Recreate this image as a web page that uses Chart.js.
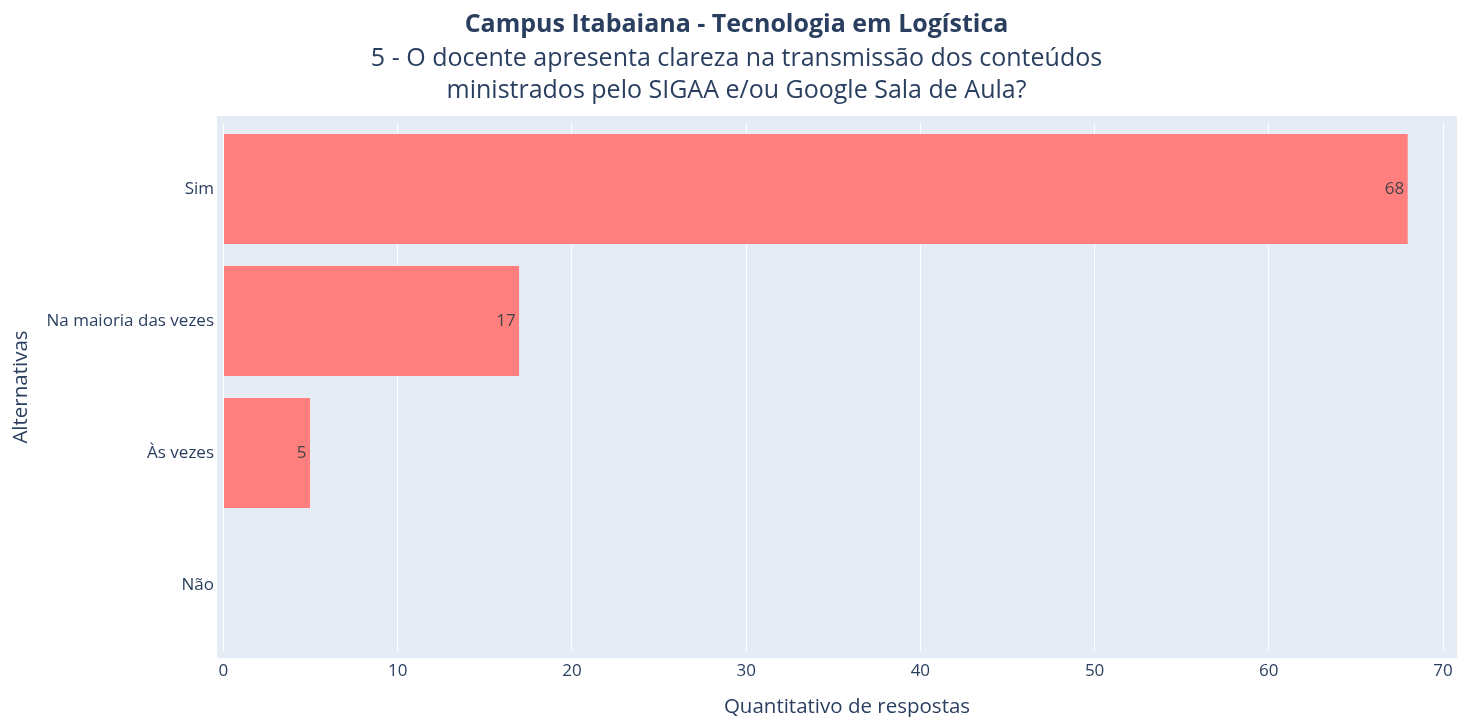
<!DOCTYPE html>
<html>
<head>
<meta charset="utf-8">
<script src="https://cdn.jsdelivr.net/npm/chart.js@4"></script>
<style>
  html, body { margin: 0; padding: 0; background: #fff; }
  #wrap { width: 1460px; height: 717px; }
</style>
</head>
<body>
<div id="wrap"><canvas id="chart"></canvas></div>
<script>
const categories = ['Sim', 'Na maioria das vezes', 'Às vezes', 'Não'];
const respostas = [68, 17, 5, 0];
const xTicks = [0, 10, 20, 30, 40, 50, 60, 70];

const titleText = 'Campus Itabaiana - Tecnologia em Logística';
const subtitleLines = ['5 - O docente apresenta clareza na transmissão dos conteúdos', 'ministrados pelo SIGAA e/ou Google Sala de Aula?'];
const xTitle = 'Quantitativo de respostas';
const yTitle = 'Alternativas';

const FONT = '"Open Sans", sans-serif';
const INK = '#2a3f5f';

// fundo da área do gráfico (estilo plotly), um pouco maior que a área das barras
const plotBg = {
    id: 'plotBg',
    beforeDraw(chart) {
        const { ctx, chartArea: a } = chart;
        ctx.save();
        ctx.fillStyle = '#E5ECF6';
        ctx.fillRect(a.left, a.top - 7, a.right - a.left, a.bottom - a.top + 14);
        ctx.restore();
    }
};

// rótulos de valor dentro da barra + título do eixo x
const barLabels = {
    id: 'barLabels',
    afterDatasetsDraw(chart) {
        const { ctx, chartArea: a } = chart;
        const meta = chart.getDatasetMeta(0);
        ctx.save();
        ctx.font = '17px ' + FONT;
        ctx.fillStyle = '#444';
        ctx.textAlign = 'right';
        ctx.textBaseline = 'middle';
        meta.data.forEach((bar, i) => {
            const v = respostas[i];
            if (!v) return;
            ctx.fillText(String(v), bar.x - 4, bar.y);
        });
        // título do eixo x (levemente deslocado como no original)
        ctx.font = '20.5px ' + FONT;
        ctx.fillStyle = INK;
        ctx.textAlign = 'center';
        ctx.fillText(xTitle, (a.left + a.right) / 2 + 10, 707);
        ctx.restore();
    }
};

new Chart(document.getElementById('chart'), {
    type: 'bar',
    data: {
        labels: categories,
        datasets: [{
            data: respostas,
            backgroundColor: '#FF7F7F',
            borderColor: '#E5ECF6',
            borderWidth: 0.5,
            barPercentage: 0.84,
            categoryPercentage: 1
        }]
    },
    options: {
        indexAxis: 'y',
        responsive: true,
        maintainAspectRatio: false,
        animation: false,
        layout: { padding: { left: 16, right: 3, top: 0, bottom: 0 } },
        plugins: {
            legend: { display: false },
            tooltip: { enabled: false },
            title: {
                display: true,
                text: titleText,
                color: INK,
                font: { family: FONT, size: 25, weight: 'bold', lineHeight: 1.2 },
                padding: { top: 10, bottom: 3 }
            },
            subtitle: {
                display: true,
                text: subtitleLines,
                color: INK,
                font: { family: FONT, size: 25, weight: 'normal', lineHeight: 1.28 },
                padding: { top: 0, bottom: 16 }
            }
        },
        scales: {
            x: {
                type: 'linear',
                min: -0.37,
                max: 70.8,
                afterBuildTicks: (scale) => { scale.ticks = xTicks.map(v => ({ value: v })); },
                afterFit: (scale) => {
                    scale.height = 66;
                    scale.paddingLeft = 0;
                    scale.paddingRight = 0;
                },
                grid: { color: '#ffffff', lineWidth: 1, drawTicks: false },
                border: { display: false },
                ticks: { color: INK, font: { family: FONT, size: 17 }, padding: 10 },
                title: { display: false }
            },
            y: {
                afterFit: (scale) => { scale.width = 201; },
                grid: { display: false, drawTicks: false },
                border: { display: false },
                ticks: { color: INK, font: { family: FONT, size: 17 }, padding: 3 },
                title: {
                    display: true,
                    text: yTitle,
                    color: INK,
                    font: { family: FONT, size: 20.5, lineHeight: 1.2 },
                    padding: { top: -7.3, bottom: 0 }
                }
            }
        }
    },
    plugins: [plotBg, barLabels]
});
</script>
</body>
</html>
